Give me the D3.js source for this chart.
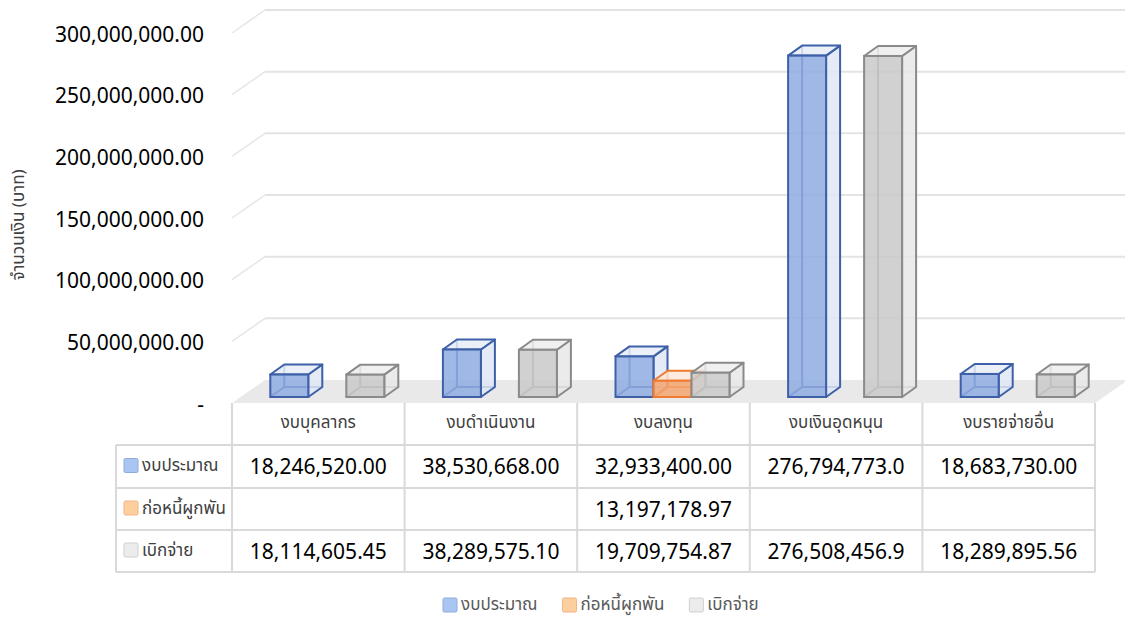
<!DOCTYPE html>
<html>
<head>
<meta charset="utf-8">
<script src="https://cdn.jsdelivr.net/npm/d3@7"></script>
<style>
  body { margin:0; background:#fff; }
  svg { display:block; }
  .thai { font-family: "Noto Sans Thai", "Noto Sans", Tahoma, sans-serif; }
  .num { font-family: "Noto Sans", "Open Sans", sans-serif; }
</style>
</head>
<body>
<svg id="chart" width="1125" height="618"></svg>
<script>
// ข้อมูล
var categories = ["งบบุคลากร", "งบดำเนินงาน", "งบลงทุน", "งบเงินอุดหนุน", "งบรายจ่ายอื่น"];
var seriesNames = ["งบประมาณ", "ก่อหนี้ผูกพัน", "เบิกจ่าย"];
var budget = [18246520.00, 38530668.00, 32933400.00, 276794773.00, 18683730.00];
var committed = [null, null, 13197178.97, null, null];
var disbursed = [18114605.45, 38289575.10, 19709754.87, 276508456.90, 18289895.56];
var yTicks = [0, 50000000, 100000000, 150000000, 200000000, 250000000, 300000000];
var yTitle = "จำนวนเงิน (บาท)";

var seriesValues = [budget, committed, disbursed];

// สี (fill หน้า, ด้านข้าง, เส้นขอบ, legend)
var styles = [
    {front:"#8fabe0", side:"#dfe6f4", top:"#e8edf7", stroke:"#3d60a8", key:"#a9c5f2", keyStroke:"#8eabdc"},
    {front:"#f3a56e", side:"#fbe1cc", top:"#fce8d8", stroke:"#ee7b30", key:"#fdcf9f", keyStroke:"#f4b384"},
    {front:"#c9c9c9", side:"#e7e7e7", top:"#ededed", stroke:"#8a8a8a", key:"#ececec", keyStroke:"#cfcfcf"}
];

var svg = d3.select("#chart");

var info = {
    left : 232,
    right : 1095,
    base : 403,
    top : 33,
    depthX : 33,
    depthY : -23
};

var x = d3.scaleBand()
    .domain(categories)
    .range([info.left, info.right])
    .paddingInner(0);

var y = d3.scaleLinear()
    .domain([0, 300000000])
    .range([info.base, info.top]);

var fmt = d3.format(",.2f");

// floor, walls
var g3d = svg.append("g");

g3d.append("path")
    .attr("d", "M" + info.left + "," + info.base +
        "L" + (info.left + info.depthX) + "," + (info.base + info.depthY) +
        "L" + (info.right + info.depthX) + "," + (info.base + info.depthY) +
        "L" + info.right + "," + info.base + "Z")
    .style("fill", "#e9e9e9");

// gridlines on back wall + side wall
yTicks.forEach(function(t) {
    if (t === 0) return;
    var yb = y(t) + info.depthY;
    g3d.append("line")
        .attr("x1", info.left + info.depthX)
        .attr("x2", 1125)
        .attr("y1", yb)
        .attr("y2", yb)
        .style("stroke", "#e3e3e3")
        .style("stroke-width", 2);
    g3d.append("line")
        .attr("x1", info.left)
        .attr("x2", info.left + info.depthX)
        .attr("y1", y(t))
        .attr("y2", yb)
        .style("stroke", "#e6e6e6")
        .style("stroke-width", 1.5);
});

// y labels
svg.append("g").selectAll("text")
    .data(yTicks)
    .enter().append("text")
    .attr("class", "num")
    .attr("x", 204)
    .attr("y", function(d) { return y(d) + 3; })
    .attr("text-anchor", "end")
    .attr("dominant-baseline", "middle")
    .style("font-size", "21px")
    .style("fill", "#000")
    .text(function(d) { return d === 0 ? "-" : fmt(d); });

svg.append("text")
    .attr("class", "thai")
    .attr("transform", "translate(24,225) rotate(-90)")
    .attr("text-anchor", "middle")
    .style("font-size", "17px")
    .style("fill", "#404040")
    .text(yTitle);

// bars
var groupW = 114;
var xs = d3.scaleBand()
    .domain(d3.range(seriesNames.length))
    .range([0, groupW])
    .paddingInner(0);

var barOff = {x: 9, y: -6};
var barDepth = {x: 14, y: -10};

var bars = svg.append("g");

categories.forEach(function(c, ci) {
    var cx = x(c) + x.bandwidth() / 2;
    seriesValues.forEach(function(vals, si) {
        var v = vals[ci];
        if (v == null) return;
        var st = styles[si];
        var x0 = cx - groupW / 2 + xs(si) + barOff.x;
        var w = xs.bandwidth();
        var y0 = y(0) + barOff.y;
        var yT = y(v) + barOff.y;
        var dx = barDepth.x, dy = barDepth.y;
        var b = bars.append("g");

        // hidden back edges
        b.append("path")
            .attr("d", "M" + x0 + "," + y0 + "L" + (x0 + dx) + "," + (y0 + dy) +
                "L" + (x0 + w + dx) + "," + (y0 + dy) +
                "M" + (x0 + dx) + "," + (y0 + dy) + "L" + (x0 + dx) + "," + (yT + dy))
            .style("fill", "none")
            .style("stroke", st.stroke)
            .style("stroke-width", 2);

        // side
        b.append("path")
            .attr("d", "M" + (x0 + w) + "," + y0 + "L" + (x0 + w + dx) + "," + (y0 + dy) +
                "L" + (x0 + w + dx) + "," + (yT + dy) + "L" + (x0 + w) + "," + yT + "Z")
            .style("fill", st.side)
            .style("fill-opacity", 0.85)
            .style("stroke", st.stroke)
            .style("stroke-width", 2)
            .style("stroke-linejoin", "round");

        // top
        b.append("path")
            .attr("d", "M" + x0 + "," + yT + "L" + (x0 + dx) + "," + (yT + dy) +
                "L" + (x0 + w + dx) + "," + (yT + dy) + "L" + (x0 + w) + "," + yT + "Z")
            .style("fill", st.top)
            .style("fill-opacity", 0.85)
            .style("stroke", st.stroke)
            .style("stroke-width", 2)
            .style("stroke-linejoin", "round");

        // front
        b.append("rect")
            .attr("x", x0)
            .attr("y", yT)
            .attr("width", w)
            .attr("height", y0 - yT)
            .style("fill", st.front)
            .style("fill-opacity", 0.85)
            .style("stroke", st.stroke)
            .style("stroke-width", 2);
    });
});

// data table
var tbl = {
    keyLeft : 116,
    header : [403, 445],
    rows : [445, 488, 530, 572]
};
var lineColor = "#d9d9d9";
var table = svg.append("g");

var vxs = [info.left].concat(categories.map(function(c) { return x(c) + x.bandwidth(); }));
vxs.forEach(function(vx) {
    table.append("line")
        .attr("x1", vx).attr("x2", vx)
        .attr("y1", tbl.header[0]).attr("y2", tbl.rows[3])
        .style("stroke", lineColor).style("stroke-width", 2);
});
table.append("line")
    .attr("x1", tbl.keyLeft).attr("x2", tbl.keyLeft)
    .attr("y1", tbl.rows[0]).attr("y2", tbl.rows[3])
    .style("stroke", lineColor).style("stroke-width", 2);
tbl.rows.forEach(function(ry) {
    table.append("line")
        .attr("x1", tbl.keyLeft).attr("x2", info.right)
        .attr("y1", ry).attr("y2", ry)
        .style("stroke", lineColor).style("stroke-width", 2);
});

table.selectAll(".hdr")
    .data(categories)
    .enter().append("text")
    .attr("class", "thai")
    .attr("x", function(d) { return x(d) + x.bandwidth() / 2; })
    .attr("y", 428)
    .attr("text-anchor", "middle")
    .style("font-size", "17px")
    .style("fill", "#404040")
    .text(function(d) { return d; });

seriesNames.forEach(function(name, si) {
    var rowMid = (tbl.rows[si] + tbl.rows[si + 1]) / 2;
    table.append("rect")
        .attr("x", 124).attr("y", rowMid - 8)
        .attr("width", 14).attr("height", 14)
        .attr("rx", 1.5)
        .style("fill", styles[si].key)
        .style("stroke", styles[si].keyStroke);
    table.append("text")
        .attr("class", "thai")
        .attr("x", 142)
        .attr("y", rowMid)
        .attr("dominant-baseline", "middle")
        .style("font-size", "17px")
        .style("fill", "#404040")
        .text(name);

    categories.forEach(function(c, ci) {
        var v = seriesValues[si][ci];
        if (v == null) return;
        var s = fmt(v);
        var t = table.append("text")
            .attr("class", "num")
            .attr("x", x(c) + x.bandwidth() / 2)
            .attr("y", rowMid + 2)
            .attr("text-anchor", "middle")
            .attr("dominant-baseline", "middle")
            .style("font-size", "21px")
            .style("fill", "#000")
            .text(s);
        // too wide for the cell -> cut the tail
        while (t.node().getComputedTextLength() > x.bandwidth() * 0.86 && s.length > 1) {
            s = s.slice(0, -1);
            t.text(s);
        }
    });
});

// legend
var legend = svg.append("g");
var lx = 443;
seriesNames.forEach(function(name, si) {
    legend.append("rect")
        .attr("x", lx).attr("y", 598)
        .attr("width", 14).attr("height", 14)
        .attr("rx", 1.5)
        .style("fill", styles[si].key)
        .style("stroke", styles[si].keyStroke);
    var t = legend.append("text")
        .attr("class", "thai")
        .attr("x", lx + 18)
        .attr("y", 605)
        .attr("dominant-baseline", "middle")
        .style("font-size", "17px")
        .style("fill", "#595959")
        .text(name);
    lx += 18 + t.node().getComputedTextLength() + 25;
});
</script>
</body>
</html>
